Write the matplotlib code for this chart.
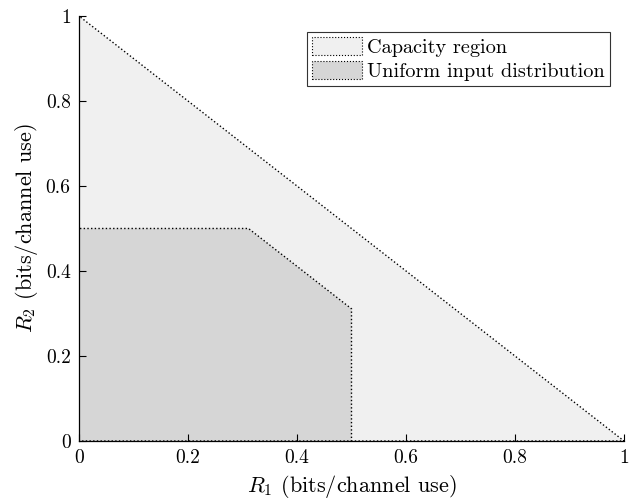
import numpy as np
import matplotlib.pyplot as plt
from matplotlib.patches import Patch

plt.rcParams['font.family'] = 'cmr10'
plt.rcParams['mathtext.fontset'] = 'cm'
plt.rcParams['axes.unicode_minus'] = False

# capacity region (triangle) and uniform-input region (pentagon)
cap_r1 = [0, 0, 1]
cap_r2 = [0, 1, 0]
uni_r1 = [0, 0, 0.311, 0.5, 0.5]
uni_r2 = [0, 0.5, 0.5, 0.311, 0]

ticks = [0, 0.2, 0.4, 0.6, 0.8, 1]
tick_labels = ['0', '0.2', '0.4', '0.6', '0.8', '1']

fig = plt.figure(figsize=(6.34, 5.03), dpi=100)
ax = fig.add_axes([0.1246, 0.1233, 0.8596, 0.8449])

ax.fill(cap_r1, cap_r2, facecolor='#f0f0f0', edgecolor='black',
        linestyle=':', linewidth=1.0, label='Capacity region')
ax.fill(uni_r1, uni_r2, facecolor='#d6d6d6', edgecolor='black',
        linestyle=':', linewidth=1.0, label='Uniform input distribution')

ax.set_xlim(0, 1)
ax.set_ylim(0, 1)
ax.set_xticks(ticks)
ax.set_xticklabels(tick_labels)
ax.set_yticks(ticks)
ax.set_yticklabels(tick_labels)
ax.tick_params(direction='in', length=5, width=0.8, labelsize=14, pad=6)

ax.spines['top'].set_visible(False)
ax.spines['right'].set_visible(False)
ax.spines['left'].set_linewidth(0.9)
ax.spines['bottom'].set_linewidth(0.9)

ax.set_xlabel(r'$R_1$ (bits/channel use)', fontsize=16, labelpad=4)
ax.set_ylabel(r'$R_2$ (bits/channel use)', fontsize=16, labelpad=4)

handles = [
    Patch(facecolor='#f0f0f0', edgecolor='black', linestyle=':', linewidth=0.8,
          label='Capacity region'),
    Patch(facecolor='#d6d6d6', edgecolor='black', linestyle=':', linewidth=0.8,
          label='Uniform input distribution'),
]
leg = ax.legend(handles=handles, loc='upper right', fontsize=14.6, frameon=True,
                fancybox=False, edgecolor='#333333', framealpha=1,
                borderpad=0.25, labelspacing=0.2, handlelength=2.45,
                handleheight=1.0, handletextpad=0.25, borderaxespad=0,
                bbox_to_anchor=(0.974, 0.962))
leg.get_frame().set_linewidth(0.8)

fig.savefig('out.png', dpi=100)
